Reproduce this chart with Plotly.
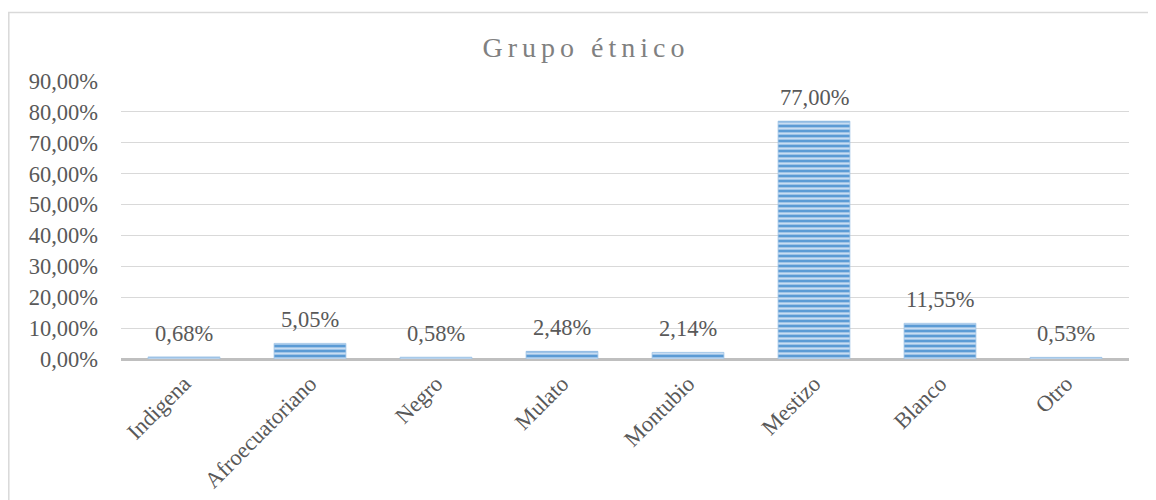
import plotly.graph_objects as go

categories = ["Indigena", "Afroecuatoriano", "Negro", "Mulato", "Montubio", "Mestizo", "Blanco", "Otro"]
values = [0.68, 5.05, 0.58, 2.48, 2.14, 77.00, 11.55, 0.53]
y_ticks = [0, 10, 20, 30, 40, 50, 60, 70, 80, 90]
title_text = "Grupo étnico"

W, H = 1156, 500
L, R, T, B = 113, 35, 73, 149
FONT = "Times New Roman, Liberation Serif, serif"
TXT = "#595959"
FS = 22.5

def fmt(v):
    return f"{v:.2f}".replace(".", ",") + "%"

fig = go.Figure()
fig.add_trace(go.Bar(
    x=categories, y=values,
    width=0.57,
    marker=dict(
        color="#5B9BD5",
        line=dict(color="#9DC3E6", width=0.8),
        pattern=dict(shape="-", fgcolor="#C9DDF2", bgcolor="#5B9BD5", size=5, solidity=0.45, fillmode="replace"),
    ),
    hoverinfo="skip",
))

for c, v in zip(categories, values):
    fig.add_annotation(x=c, y=v, text=fmt(v), showarrow=False, yanchor="bottom",
                       yshift=9, font=dict(family=FONT, size=FS, color=TXT))

pw = W - L - R
ph = H - T - B
fig.add_shape(type="rect", xref="paper", yref="paper",
              x0=(0.8 - L) / pw, x1=(W + 20 - L) / pw,
              y0=-(H + 20 - T - ph) / ph, y1=(H - 4.5 - B) / ph,
              line=dict(color="#D9D9D9", width=1.5), fillcolor="rgba(0,0,0,0)", layer="below")

fig.update_layout(
    width=W, height=H,
    margin=dict(l=L, r=R, t=T, b=B),
    paper_bgcolor="white", plot_bgcolor="white",
    showlegend=False,
    title=dict(text=title_text, x=0.5, xref="container", xanchor="center", y=1 - 39 / H, yanchor="middle",
               font=dict(family=FONT, size=28, color="#808080")),
    xaxis=dict(
        tickangle=-45,
        tickfont=dict(family=FONT, size=FS, color=TXT),
        showgrid=False, showline=False, ticks="",
        ticklabelstandoff=6,
    ),
    yaxis=dict(
        range=[0, 90],
        tickvals=y_ticks,
        ticktext=[fmt(t) for t in y_ticks],
        tickfont=dict(family=FONT, size=FS, color=TXT),
        showgrid=True, gridcolor="#D9D9D9", gridwidth=1.3,
        zeroline=True, zerolinecolor="#BFBFBF", zerolinewidth=3,
        showline=False, ticks="",
        ticklabelstandoff=22,
    ),
)

fig.write_html("out.html", post_script="document.querySelectorAll('.gtitle').forEach(function(e){e.style.letterSpacing='5px';});")
